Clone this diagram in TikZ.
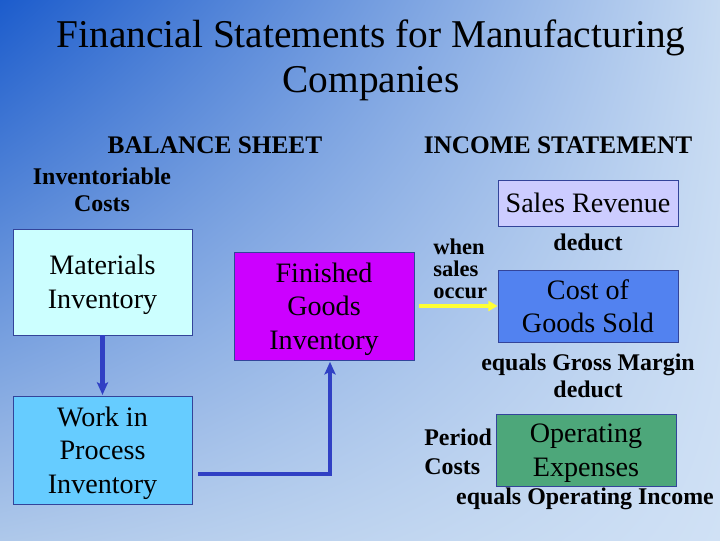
\documentclass[tikz,border=0pt]{standalone}
\usepackage{fontspec}
\setmainfont{Liberation Serif}
\usetikzlibrary{arrows.meta,shadings}

\definecolor{sfondoA}{HTML}{1C5CCC}
\definecolor{sfondoB}{HTML}{C6DAF2}
\definecolor{sfondoC}{HTML}{AEC8EA}
\definecolor{sfondoD}{HTML}{D0E1F5}
\definecolor{bordo}{HTML}{33449A}
\definecolor{blu}{HTML}{3040C4}
\definecolor{giallo}{HTML}{FFFF33}
\definecolor{materiali}{HTML}{CCFFFF}
\definecolor{lavoraz}{HTML}{66CCFF}
\definecolor{finiti}{HTML}{CC00FF}
\definecolor{ricavi}{HTML}{CCCCFF}
\definecolor{costo}{HTML}{5282F0}
\definecolor{spese}{HTML}{4DA77A}

\begin{document}
\begin{tikzpicture}[
	x=0.025cm, y=-0.025cm,
	conto/.style={draw=bordo, line width=0.6pt, inner sep=0pt,
		align=center, text=black, text depth=0pt,
		font=\fontsize{20}{24}\selectfont},
	freccia/.style={draw=blu, line width=3.4pt,
		-{Stealth[length=9pt,width=8pt,inset=2pt]}},
	gialla/.style={draw=giallo, line width=2.6pt,
		-{Triangle[length=6.5pt,width=7pt]}},
	etich/.style={font=\bfseries\fontsize{17}{19}\selectfont,
		inner sep=0pt},
	testata/.style={font=\bfseries\fontsize{18}{21}\selectfont,
		inner sep=0pt},
	]
	\useasboundingbox (0,0) rectangle (720,540);
	\shade[upper left=sfondoA, upper right=sfondoB,
		lower left=sfondoC, lower right=sfondoD] (0,0) rectangle (720,540);
	
	% titolo
	\node[align=center, inner sep=0pt,
		font=\fontsize{28}{32}\selectfont] (titolo) at (371,60)
		{Financial Statements for Manufacturing\\Companies};
	\node[testata] (stato) at (215,145) {BALANCE SHEET};
	\node[testata] (conto) at (558,145) {INCOME STATEMENT};
	
	%% stato patrimoniale
	\node[etich, align=center] (invent) at (102,190)
		{Inventoriable\\Costs};
	\node[conto, fill=materiali, minimum width=4.475cm,
		minimum height=2.65cm] (mat) at (102.5,282)
		{Materials\\Inventory};
	\node[conto, fill=lavoraz, minimum width=4.475cm,
		minimum height=2.7cm] (wip) at (102.5,450)
		{Work in\\Process\\Inventory};
	\node[conto, fill=finiti, minimum width=4.5cm,
		minimum height=2.7cm] (fin) at (324,306)
		{Finished\\Goods\\Inventory};
	
	% flussi
	\draw[freccia, shorten >=0.5pt] (mat) -- (wip);
	\draw[freccia, shorten >=1pt] ([xshift=4pt,yshift=-0.6cm]wip.east)
		-| ([xshift=0.15cm]fin.south);
	
	%% conto economico
	\node[conto, fill=ricavi, minimum width=4.5cm,
		minimum height=1.15cm] (ricavi) at (588,203) {Sales Revenue};
	\node[etich] (ded1) at (588,242) {deduct};
	\node[conto, fill=costo, minimum width=4.5cm,
		minimum height=1.8cm] (cogs) at (588,306) {Cost of\\Goods Sold};
	\node[etich, anchor=west, align=left,
		font=\bfseries\fontsize{16}{15.6}\selectfont] (vendite) at (433,269)
		{when\\sales\\occur};
	\draw[gialla] ([xshift=3pt]fin.east) -- (cogs.west);
	\node[etich, align=center] (margine) at (588,376)
		{equals Gross Margin\\deduct};
	\node[conto, fill=spese, minimum width=4.5cm,
		minimum height=1.8cm] (opex) at (586,450) {Operating\\Expenses};
	\node[etich, anchor=west, align=left,
		font=\bfseries\fontsize{17}{20.6}\selectfont] (periodo) at (424,452)
		{Period\\Costs};
	\node[etich] (reddito) at (585,499) {equals Operating Income};
	
\end{tikzpicture}
\end{document}
